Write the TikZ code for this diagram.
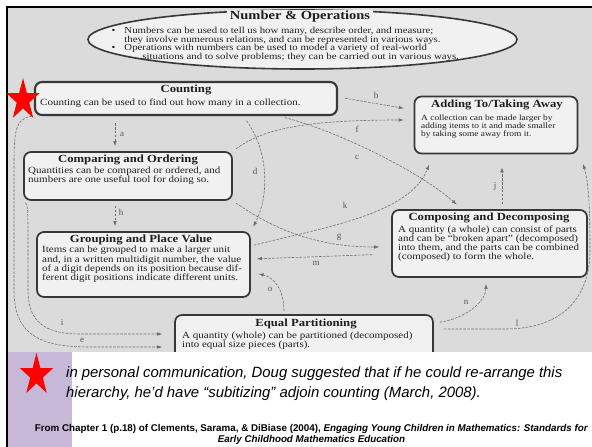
\documentclass[tikz,border=0pt]{standalone}
\usepackage{fontspec}
\setmainfont{Liberation Serif}
\setsansfont{Liberation Sans}
\usepackage{graphicx}
\usetikzlibrary{arrows.meta,shapes.geometric}

\definecolor{scan}{HTML}{DBDBDB}
\definecolor{boxfill}{HTML}{F1F1F1}
\definecolor{boxline}{HTML}{383838}
\definecolor{wire}{HTML}{6E6E6E}
\definecolor{ink}{HTML}{1E1E1E}
\definecolor{lav}{HTML}{C6B8D6}

% vertical squeeze used for the printed text of the figure
\newcommand{\vsquash}[2][0.86]{\scalebox{1}[#1]{#2}}

\begin{document}
\begin{tikzpicture}[x=1pt,y=-1pt,
  box/.style={draw=boxline, line width=1.7pt, fill=boxfill, rounded corners=7pt, inner sep=0pt},
  ttl/.style={font=\fontsize{12.7}{12.7}\selectfont\bfseries, text=ink, inner sep=0pt},
  body/.style={font=\fontsize{11}{10.5}\selectfont, text=ink, anchor=west, inner sep=0pt},
  wire/.style={draw=wire, line width=0.6pt, dash pattern=on 2.6pt off 1.3pt, -{Latex[length=5pt,width=3.6pt]}},
  lbl/.style={font=\fontsize{9}{9}\selectfont, text=ink!75, inner sep=0pt},
  starshape/.style={fill=red, draw=none},
]
\useasboundingbox (0,0) rectangle (592,447);

% page areas
\fill[scan] (8,8) rectangle (592,352);

% overview ellipse
\node[ellipse, draw=boxline, line width=1.6pt, fill=boxfill, minimum width=429pt, minimum height=59pt, inner sep=0pt] (ops) at (302.5,39.5) {};
\node[font=\fontsize{14.5}{14.5}\selectfont\bfseries, text=ink, fill=boxfill, inner xsep=3pt, inner ysep=1pt] (opsT) at (300,17) {\vsquash{Number \& Operations}};
\node[font=\fontsize{10.8}{9.6}\selectfont, text=ink, anchor=west, inner sep=0pt] (opsB) at (111.5,44.5) {\vsquash[0.85]{\begin{tabular}{@{}l@{\hspace{9pt}}l@{}}
\textbullet & Numbers can be used to tell us how many, describe order, and measure;\\
 & they involve numerous relations, and can be represented in various ways.\\
\textbullet & Operations with numbers can be used to model a variety of real-world\\
 & \hspace*{18pt}situations and to solve problems; they can be carried out in various ways.
\end{tabular}}};

% concept boxes
\node[box, line width=2.1pt, minimum width=302pt, minimum height=33pt] (cnt) at (186,98.5) {};
\node[box, minimum width=208pt, minimum height=48pt] (cmp) at (128,176) {};
\node[box, minimum width=213pt, minimum height=65pt] (grp) at (143.5,264.5) {};
\node[box, minimum width=163pt, minimum height=57pt] (add) at (496,125) {};
\node[box, minimum width=195pt, minimum height=67pt] (cdc) at (489.5,243.5) {};
\node[box, minimum width=258pt, minimum height=44pt] (eqp) at (304,337) {};

% box texts
\node[ttl] (cntT) at (186,90) {\vsquash{Counting}};
\node[body] (cntB) at (40,103) {\vsquash{Counting can be used to find out how many in a collection.}};

\node[ttl] (cmpT) at (128,160) {\vsquash{Comparing and Ordering}};
\node[body] (cmpB) at (28,176) {\vsquash{\begin{tabular}{@{}l@{}}
Quantities can be compared or ordered, and\\
numbers are one useful tool for doing so.
\end{tabular}}};

\node[ttl] (grpT) at (141,240) {\vsquash{Grouping and Place Value}};
\node[body] (grpB) at (42,265) {\vsquash{\begin{tabular}{@{}l@{}}
Items can be grouped to make a larger unit\\
and, in a written multidigit number, the value\\
of a digit depends on its position because dif-\\
ferent digit positions indicate different units.
\end{tabular}}};

\node[ttl] (addT) at (497,105) {\vsquash{Adding To/Taking Away}};
\node[body, font=\fontsize{9.4}{9.4}\selectfont] (addB) at (421,126.5) {\vsquash{\begin{tabular}{@{}l@{}}
A collection can be made larger by\\
adding items to it and made smaller\\
by taking some away from it.
\end{tabular}}};

\node[ttl] (cdcT) at (489,218) {\vsquash{Composing and Decomposing}};
\node[body] (cdcB) at (398,244) {\vsquash{\begin{tabular}{@{}l@{}}
A quantity (a whole) can consist of parts\\
and can be ``broken apart'' (decomposed)\\
into them, and the parts can be combined\\
(composed) to form the whole.
\end{tabular}}};

\node[ttl] (eqpT) at (306,324) {\vsquash{Equal Partitioning}};
\node[body] (eqpB) at (182,341) {\vsquash{\begin{tabular}{@{}l@{}}
A quantity (whole) can be partitioned (decomposed)\\
into equal size pieces (parts).
\end{tabular}}};

% connectors
\draw[wire, shorten <=7pt, shorten >=5pt] (cnt.south -| 115,0) -- (cmp.north -| 115,0);
\node[lbl] (la) at (122,134) {a};
\draw[wire, shorten <=7pt, shorten >=10pt] (cnt.east |- 0,97) -- (add.west |- 0,110);
\node[lbl] (lb) at (376,95) {b};
\draw[wire, shorten <=6pt, shorten >=7pt] (cnt.south -| 279,0) .. controls (340,132) and (420,172) .. (cdc.north -| 462,0);
\node[lbl] (lc) at (357,157) {c};
\draw[wire, shorten <=6pt, shorten >=5pt] (cnt.south -| 243,0) .. controls (268,150) and (270,195) .. (grp.north east);
\node[lbl] (ld) at (255,171) {d};
\draw[wire, shorten <=2pt, shorten >=12pt] (cnt.south west) .. controls (14,118) and (14,135) .. (14,170) -- (14,290) .. controls (14,335) and (40,347) .. (90,347) -- (eqp.west |- 0,347);
\node[lbl] (le) at (82,340) {e};
\draw[wire, shorten <=4pt, shorten >=10pt] (cmp.north east) .. controls (262,130) and (300,120) .. (add.west |- 0,120);
\node[lbl] (lf) at (357,129) {f};
\draw[wire, shorten <=4pt, shorten >=12pt] (cmp.south east) .. controls (268,225) and (310,247) .. (cdc.west |- 0,247);
\node[lbl] (lg) at (339,237) {g};
\draw[wire, shorten <=5pt, shorten >=5pt] (cmp.south -| 115,0) -- (grp.north -| 115,0);
\node[lbl] (lh) at (121,212) {h};
\draw[wire, shorten <=3pt, shorten >=12pt] (cmp.south west) .. controls (28,205) and (28,215) .. (28,235) -- (28,290) .. controls (28,322) and (45,334) .. (80,334) -- (eqp.west |- 0,334);
\node[lbl] (li) at (62,323) {i};
\draw[wire, shorten <=5pt, shorten >=13pt] (cdc.north -| 502,0) -- (add.south -| 502,0);
\node[lbl] (lj) at (495,186) {j};
\draw[wire, shorten <=3pt, shorten >=11pt] (grp.east |- 0,246) .. controls (320,228) and (410,215) .. (add.south -| 433,0);
\node[lbl] (lk) at (345,205) {k};
\draw[wire, shorten <=10pt, shorten >=10pt] (eqp.east |- 0,329) -- (505,329) .. controls (560,329) and (590,300) .. (590,250) .. controls (590,200) and (588,180) .. (add.south -| 580,0);
\node[lbl] (ll) at (517,323) {l};
\draw[wire, shorten <=19pt, shorten >=6pt] (cdc.west |- 0,254) -- (grp.east |- 0,259);
\node[lbl] (lm) at (316,263) {m};
\draw[wire, shorten <=6pt, shorten >=6pt] (eqp.east |- 0,323) .. controls (468,318) and (486,300) .. (cdc.south -| 486,0);
\node[lbl] (ln) at (466,302) {n};
\draw[wire, shorten <=3pt, shorten >=8pt] (eqp.north -| 284,0) .. controls (284,292) and (276,278) .. (grp.east |- 0,272);
\node[lbl] (lo) at (270,289) {o};

% lower panel
\fill[white] (8,352) rectangle (592,447);
\fill[lav] (8,352) rectangle (72,447);

% frame
\draw[line width=2.5pt] (7,447) -- (7,7) -- (592,7);

% stars
\begin{scope}[shift={(23,100)}, xscale=17.35, yscale=22.1]
\fill[starshape] (0,-1) -- (0.2245,-0.309) -- (0.951,-0.309) -- (0.363,0.118) -- (0.588,0.809) -- (0,0.382) -- (-0.588,0.809) -- (-0.363,0.118) -- (-0.951,-0.309) -- (-0.2245,-0.309) -- cycle;
\end{scope}
\begin{scope}[shift={(36.5,375)}, xscale=17.35, yscale=22.1]
\fill[starshape] (0,-1) -- (0.2245,-0.309) -- (0.951,-0.309) -- (0.363,0.118) -- (0.588,0.809) -- (0,0.382) -- (-0.588,0.809) -- (-0.363,0.118) -- (-0.951,-0.309) -- (-0.2245,-0.309) -- cycle;
\end{scope}

% note and source
\node[font=\sffamily\itshape\fontsize{14.9}{20}\selectfont, anchor=west, align=left, inner sep=0pt] (note) at (66,384)
  {in personal communication, Doug suggested that if he could re-arrange this\\hierarchy, he’d have “subitizing” adjoin counting (March, 2008).};
\node[font=\sffamily\bfseries\fontsize{9.8}{11}\selectfont, align=center, inner sep=0pt] (src) at (311.5,434.5)
  {From Chapter 1 (p.18) of Clements, Sarama, \& DiBiase (2004), \textit{Engaging Young Children in Mathematics: Standards for}\\\textit{Early Childhood Mathematics Education}};
\end{tikzpicture}
\end{document}
